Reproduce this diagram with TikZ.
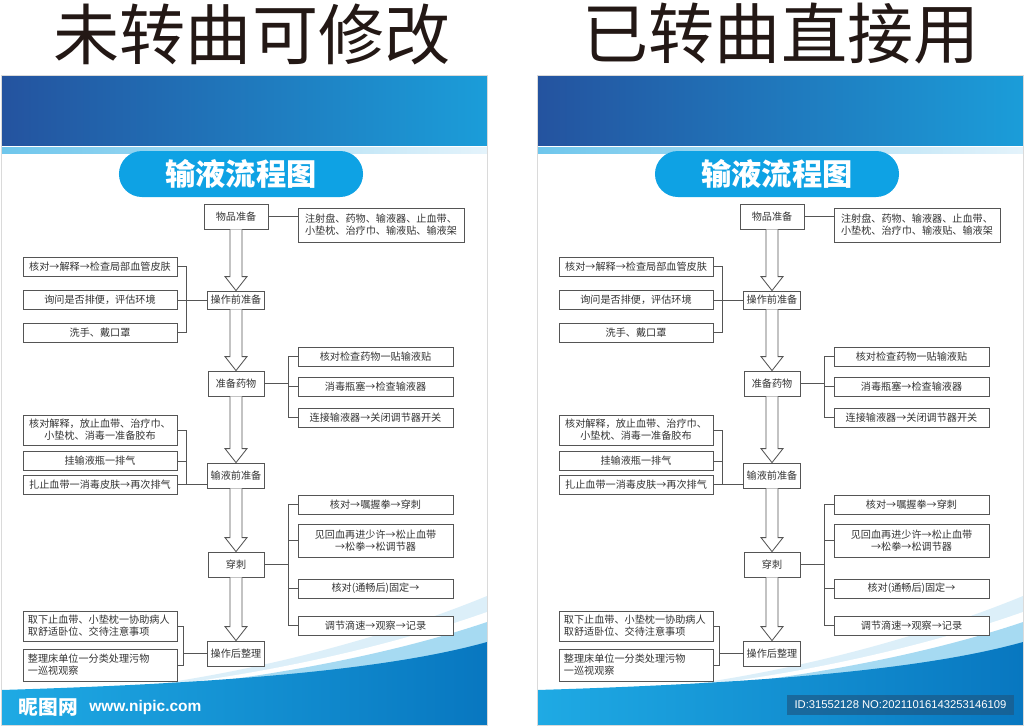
\documentclass[tikz,border=0pt]{standalone}
\usepackage{fontspec}
\newfontfamily\cjk{Noto Sans CJK SC}
\newfontfamily\latinsans{Liberation Sans}
\usetikzlibrary{calc,positioning,shapes}

\definecolor{bandDark}{HTML}{24539F}
\definecolor{bandLight}{HTML}{1B9DD9}
\definecolor{stripe}{HTML}{6EC6EC}
\definecolor{stripeFade}{HTML}{E4F3FB}
\definecolor{pill}{HTML}{0EA2E4}
\definecolor{boxline}{HTML}{555555}
\definecolor{boxtext}{HTML}{333333}
\definecolor{titletext}{HTML}{231815}
\definecolor{waveLeft}{HTML}{1FAAE4}
\definecolor{waveRight}{HTML}{0877C0}
\definecolor{wavePale}{HTML}{DCEFF9}
\definecolor{waveMid}{HTML}{A6DAF2}
\definecolor{idbox}{HTML}{1C5A88}
\definecolor{frame}{HTML}{DADADA}

\begin{document}
\begin{tikzpicture}[x=0.025cm,y=-0.025cm,
    stepbox/.style={draw=boxline, line width=0.6pt, fill=white, text=boxtext, align=center,
      font=\cjk\fontsize{7.2}{8.5}\selectfont, inner sep=2pt},
    mainbox/.style={stepbox, minimum width=1.4cm, minimum height=0.625cm},
    sidebox/.style={stepbox, minimum width=3.875cm, minimum height=0.475cm},
    leftbox/.style={stepbox, minimum width=3.85cm, minimum height=0.475cm},
    notebox/.style={stepbox, align=left, text width=3.6cm, inner xsep=0.125cm, inner ysep=2pt},
    link/.style={draw=boxline, line width=0.6pt}]

  \useasboundingbox (0,0) rectangle (1024,725);
  \fill[white] (0,0) rectangle (1024,725);

  \foreach \dx/\nm/\tx/\ttl in {0/L/252/未转曲可修改,536/R/245/已转曲直接用}
  {
  \begin{scope}[shift={(\dx,0)}]

    \node [inner sep=0pt, font=\cjk\fontsize{47}{47}\selectfont, text=titletext] (title_\nm) at (\tx,34) {\ttl};

    % panel, header band and bottom wave
    \shade [left color=bandDark, right color=bandLight] (1,75) rectangle (487,145);
    \shade [left color=stripe, right color=stripeFade] (1,147) rectangle (487,153);
    \begin{scope}
      \clip (1,75) rectangle (487,725);
      \fill [wavePale] (1,698) .. controls (200,692) and (380,640) .. (487,596) -- (487,725) -- (1,725) -- cycle;
      \fill [white] (1,698) .. controls (210,692) and (385,648) .. (487,612) -- (487,725) -- (1,725) -- cycle;
      \fill [waveMid] (1,698) .. controls (220,692) and (390,655) .. (487,622) -- (487,725) -- (1,725) -- cycle;
      \shade [left color=waveLeft, right color=waveRight] (1,690) .. controls (200,684) and (380,672) .. (487,642) -- (487,725) -- (1,725) -- cycle;
    \end{scope}
    \draw [frame, line width=0.5pt] (1,75) rectangle (487,725);

    \node [fill=pill, rounded corners=0.575cm, minimum width=6.1cm, minimum height=1.15cm, text=white,
      font=\cjk\bfseries\fontsize{21.5}{22}\selectfont] (head_\nm) at (241,174) {输液流程图};

    % main column
    \node [stepbox, minimum width=1.6cm, minimum height=0.625cm] (item_\nm) at (236,216.5) {物品准备};
    \node [mainbox, minimum height=0.45cm] (pre_\nm) at (236,300) {操作前准备};
    \node [mainbox] (drug_\nm) at (236,383.5) {准备药物};
    \node [mainbox] (infuse_\nm) at (236,475.5) {输液前准备};
    \node [mainbox] (stab_\nm) at (236,564.5) {穿刺};
    \node [mainbox] (after_\nm) at (236,653.5) {操作后整理};

    % right hand steps
    \node [sidebox, minimum width=4.15cm, minimum height=0.85cm] (supply_\nm) at (381,225) {注射盘、药物、输液器、止血带、\\小垫枕、治疗巾、输液贴、输液架};
    \node [sidebox] (d1_\nm) at (375.5,356.5) {核对检查药物一贴输液贴};
    \node [sidebox] (d2_\nm) at (375.5,386.5) {消毒瓶塞→检查输液器};
    \node [sidebox] (d3_\nm) at (375.5,417.5) {连接输液器→关闭调节器开关};
    \node [sidebox] (p1_\nm) at (375.5,504.5) {核对→嘱握拳→穿刺};
    \node [sidebox, minimum height=0.825cm] (p2_\nm) at (375.5,540.5) {见回血再进少许→松止血带\\→松拳→松调节器};
    \node [sidebox] (p3_\nm) at (375.5,588.5) {核对(通畅后)固定→};
    \node [sidebox] (p4_\nm) at (375.5,625.5) {调节滴速→观察→记录};

    % left hand steps
    \node [leftbox] (a1_\nm) at (100,266.5) {核对→解释→检查局部血管皮肤};
    \node [leftbox] (a2_\nm) at (100,300) {询问是否排便，评估环境};
    \node [leftbox] (a3_\nm) at (100,332.5) {洗手、戴口罩};
    \node [leftbox, minimum height=0.75cm] (b1_\nm) at (100,430) {核对解释，放止血带、治疗巾、\\小垫枕、消毒一准备胶布};
    \node [leftbox] (b2_\nm) at (100,461) {挂输液瓶一排气};
    \node [leftbox] (b3_\nm) at (100,484.5) {扎止血带一消毒皮肤→再次排气};
    \node [notebox, minimum height=0.75cm] (c1_\nm) at (100,626) {取下止血带、小垫枕一协助病人\\取舒适卧位、交待注意事项};
    \node [notebox, minimum height=0.8cm] (c2_\nm) at (100,665) {整理床单位一分类处理污物\\一巡视观察};

    % hollow arrows down the main column
    \foreach \a/\b in {item/pre,pre/drug,drug/infuse,infuse/stab,stab/after}{
      \draw [link, fill=white] ($(\a_\nm.south)+(-6,0)$) -- ($(\b_\nm.north)+(-6,-14)$) -- ($(\b_\nm.north)+(-11,-14)$)
        -- (\b_\nm.north) -- ($(\b_\nm.north)+(11,-14)$) -- ($(\b_\nm.north)+(6,-14)$) -- ($(\a_\nm.south)+(6,0)$);
    }

    % brackets
    \coordinate (dbar_\nm) at ($(d1_\nm.west)+(-9,0)$);
    \coordinate (pbar_\nm) at ($(p1_\nm.west)+(-9,0)$);
    \coordinate (cbar_\nm) at ($(c1_\nm.east)+(6,0)$);
    \draw [link] (item_\nm.east) -- (item_\nm.east -| supply_\nm.west);
    \draw [link] (a1_\nm.east) -- ++(9,0) |- (a3_\nm.east);
    \draw [link] (a2_\nm.east) -- (pre_\nm.west);
    \draw [link] (d1_\nm.west) -- (dbar_\nm) |- (d3_\nm.west);
    \draw [link] (d2_\nm.west) -- (d2_\nm.west -| dbar_\nm);
    \draw [link] (drug_\nm.east) -- (drug_\nm.east -| dbar_\nm);
    \draw [link] (b1_\nm.east) -- ++(9,0) |- (b3_\nm.east);
    \draw [link] (b2_\nm.east) -- ++(9,0);
    \draw [link] (b3_\nm.east) -- (b3_\nm.east -| infuse_\nm.west);
    \draw [link] (p1_\nm.west) -- (pbar_\nm) |- (p4_\nm.west);
    \draw [link] (p2_\nm.west) -- (p2_\nm.west -| pbar_\nm);
    \draw [link] (p3_\nm.west) -- (p3_\nm.west -| pbar_\nm);
    \draw [link] (stab_\nm.east) -- (stab_\nm.east -| pbar_\nm);
    \draw [link] (c1_\nm.east) -- (cbar_\nm) |- (c2_\nm.east);
    \draw [link] (after_\nm.west) -- (after_\nm.west -| cbar_\nm);

  \end{scope}
  }

  % watermarks
  \node [anchor=west, text=white, font=\cjk\bfseries\fontsize{14}{14}\selectfont] (wm_site) at (14,707) {昵图网};
  \node [right=1pt of wm_site, text=white, font=\latinsans\bfseries\fontsize{11}{12}\selectfont] (wm_url) {www.nipic.com};
  \node [fill=idbox, fill opacity=0.7, text opacity=1, text=white, font=\latinsans\fontsize{8}{8}\selectfont,
    minimum width=5.675cm, minimum height=0.5cm] (wm_id) at (900.5,705) {ID:31552128 NO:20211016143253146109};

\end{tikzpicture}
\end{document}
